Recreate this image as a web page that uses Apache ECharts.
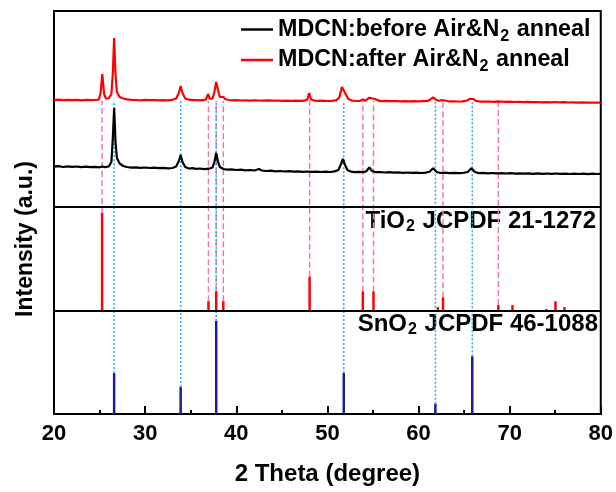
<!DOCTYPE html>
<html>
<head>
<meta charset="utf-8">
<script src="https://cdn.jsdelivr.net/npm/echarts@6/dist/echarts.min.js"></script>
<style>html,body{margin:0;padding:0;background:#fff}#c{width:616px;height:492px}</style>
</head>
<body>
<div id="c"></div>
<script>
// ---- data (y in arbitrary stacked intensity units; SnO2 panel 0-103, TiO2 panel 103-207, patterns above) ----
var seriesNames = ['MDCN:before Air&N2 anneal', 'MDCN:after Air&N2 anneal'];
var xTicks = [20, 30, 40, 50, 60, 70, 80];

var redCurve = [
[20,314],[20.5,314.3],[21,313.8],[21.5,314.2],[22,313.9],[22.5,314.1],[23,313.7],[23.5,314.2],[24,313.9],[24.5,314.0],
[24.9,314.3],[25.1,320],[25.3,340],[25.5,320],[25.7,315.5],[26.0,315.5],[26.3,320],[26.45,340],[26.6,376],[26.75,340],
[26.9,322],[27.2,317],[27.6,315.5],[28,314.6],[28.5,314.2],[29,314.0],[29.5,313.7],[30,314.1],[30.5,313.8],[31,313.9],
[31.5,313.6],[32,313.9],[32.5,313.7],[33,314.2],[33.4,315.5],[33.7,321],[33.9,328],[34.1,321],[34.4,315.5],[34.8,314.3],
[35.2,313.8],[35.6,313.9],[36,313.6],[36.4,313.8],[36.7,314.8],[36.9,320],[37.1,315],[37.4,315.5],[37.6,322],[37.8,332],
[38.0,324],[38.2,317],[38.4,315.5],[38.6,317],[38.8,314.8],[39.2,314.0],[39.6,313.6],[40,313.8],[40.5,313.5],[41,313.7],
[41.5,313.4],[42,313.7],[42.5,313.5],[43,313.3],[43.5,313.6],[44,313.3],[44.5,313.5],[45,313.2],[45.5,313.4],[46,313.2],
[46.5,313.4],[47,313.1],[47.5,313.3],[47.8,314.5],[48.0,321],[48.2,314.5],[48.6,313.4],[49,313.1],[49.5,313.3],[50,313.0],
[50.5,313.2],[51,313.8],[51.3,316.5],[51.6,327],[51.75,329],[52.0,320],[52.3,315],[52.7,313.4],[53.2,313.0],[53.6,313.2],
[53.9,314.5],[54.2,313.3],[54.4,314.5],[54.6,316.3],[54.8,314.5],[55.1,315.3],[55.3,313.4],[55.8,312.9],[56.3,313.1],[57,312.8],
[57.5,313.0],[58,312.7],[58.5,312.9],[59,312.6],[59.5,312.8],[60,312.6],[60.5,312.8],[61,313.0],[61.3,314.5],[61.6,316.7],
[61.9,314.3],[62.2,313.2],[62.5,313.8],[62.7,315],[62.9,313.5],[63.3,312.7],[63.8,312.6],[64.3,312.5],[64.8,312.7],[65.3,313.4],
[65.6,315.2],[65.8,315.7],[66.0,315],[66.3,313.2],[66.8,312.4],[67.3,312.3],[67.8,312.5],[68.3,312.2],[68.7,312.6],[68.9,313.3],
[69.1,312.4],[69.6,312.1],[70,312.3],[70.5,312.0],[71,312.2],[71.5,311.9],[72,312.1],[72.5,311.8],[73,312.0],[73.5,311.7],
[74,311.9],[74.5,311.6],[75,312.0],[75.5,311.6],[76,311.8],[76.5,311.5],[77,311.7],[77.5,311.4],[78,311.6],[78.5,311.3],
[79,311.5],[79.5,311.3],[80,311.4]
];

var blackCurve = [
[20,247.3],[20.5,247.8],[21,247.0],[21.5,247.6],[22,247.2],[22.5,247.5],[23,246.9],[23.5,247.4],[24,246.8],[24.5,247.2],
[25,246.7],[25.3,247.5],[25.6,246.8],[26.0,247.5],[26.3,252],[26.45,275],[26.6,306],[26.75,272],[26.9,256],[27.2,250.5],
[27.6,248],[28,247],[28.5,246.4],[29,246.7],[29.5,246.2],[30,246.5],[30.5,246.0],[31,246.3],[31.5,245.8],[32,246.1],
[32.5,245.6],[33,246.0],[33.4,247.5],[33.7,253],[33.9,259],[34.1,252],[34.4,247],[34.8,245.5],[35.2,245.8],[35.6,245.2],
[36,245.5],[36.5,244.9],[37,245.3],[37.4,246.5],[37.6,252],[37.8,261],[38.0,252],[38.2,247],[38.6,245],[39,244.4],
[39.5,244.7],[40,244.0],[40.5,244.3],[41,243.7],[41.5,244.0],[42,243.5],[42.5,245],[42.8,243.5],[43.3,243.0],[43.8,243.3],
[44.3,242.7],[44.8,243.0],[45.3,242.5],[45.8,242.8],[46.3,242.3],[46.8,242.6],[47.3,242.2],[47.8,242.5],[48.3,242.1],[48.8,242.4],
[49.3,242.0],[49.8,242.3],[50.3,242.0],[50.8,242.6],[51.2,244],[51.5,250],[51.7,255],[51.9,250],[52.2,244],[52.6,242.3],
[53,241.8],[53.5,242.1],[54,241.8],[54.3,243],[54.6,246.7],[54.9,243],[55.3,241.8],[55.8,242.0],[56.3,241.5],[56.8,241.8],
[57.3,241.3],[57.8,241.6],[58.3,241.2],[58.8,241.5],[59.3,241.1],[59.8,241.4],[60.3,241.0],[60.8,241.4],[61.2,242.2],[61.6,245.7],
[62.0,242],[62.4,241.0],[62.9,241.3],[63.4,240.9],[63.9,241.2],[64.4,240.8],[64.9,241.1],[65.4,242],[65.8,245.7],[66.2,242],
[66.6,240.9],[67.1,241.1],[67.6,240.7],[68.1,241.0],[68.6,240.6],[69.1,240.9],[69.6,240.5],[70.1,240.8],[70.6,240.4],[71.1,240.7],
[71.6,240.3],[72.1,240.6],[72.6,240.2],[73.1,240.6],[73.6,240.2],[74.1,240.5],[74.6,240.1],[75.1,240.5],[75.6,240.1],[76.1,240.4],
[76.6,240.0],[77.1,240.4],[77.6,240.0],[78.1,240.3],[78.6,239.9],[79.1,240.3],[79.6,240.0],[80,240.2]
];

// TiO2 anatase JCPDF 21-1272 reference lines
var tio2Pos = [25.28, 36.95, 37.80, 38.58, 48.05, 53.89, 55.06, 62.12, 62.69, 68.76, 70.31, 74.03, 75.03, 76.02];
var tio2Int = [100, 10, 20, 10, 35, 20, 20, 4, 14, 6, 6, 2, 10, 4];
var tio2Guide = [25.28, 36.95, 37.80, 38.58, 48.05, 53.89, 55.06, 62.69, 68.76];

// SnO2 JCPDF 46-1088 reference lines
var sno2Pos = [26.6, 33.9, 37.8, 51.8, 61.85, 65.9];
var sno2Int = [44, 29, 100, 44, 11, 62];

var panelBase = { sno2: 0, tio2: 103, top: 207 };
var panelScale = { sno2: 0.93, tio2: 0.98 };
var guideTop = 313;

// ---- build ----
var tio2Data = tio2Pos.map(function (p, i) { return [p, panelBase.tio2, panelBase.tio2 + tio2Int[i] * panelScale.tio2]; });
var sno2Data = sno2Pos.map(function (p, i) { return [p, panelBase.sno2, panelBase.sno2 + sno2Int[i] * panelScale.sno2]; });
var tio2GuideData = tio2Guide.map(function (p) { var i = tio2Pos.indexOf(p); return [p, panelBase.tio2 + tio2Int[i] * panelScale.tio2, guideTop]; });
var sno2GuideData = sno2Pos.map(function (p, i) { return [p, panelBase.sno2 + sno2Int[i] * panelScale.sno2, guideTop]; });

function segRender(color, width, dash) {
  return function (params, api) {
    var a = api.coord([api.value(0), api.value(1)]);
    var b = api.coord([api.value(0), api.value(2)]);
    return { type: 'line', shape: { x1: a[0], y1: a[1], x2: b[0], y2: b[1] },
      style: { stroke: color, lineWidth: width, lineDash: dash || null, fill: null } };
  };
}

var FONT = "'Liberation Sans', Arial, sans-serif";
function sub(s) { return '{a|' + s.replace(/([A-Za-z])2/, '$1}{s|2}{a|') + '}'; }
function richOf(size, subSize, lh) {
  return {
    a: { fontFamily: FONT, fontWeight: 'bold', fontSize: size, color: '#000', lineHeight: lh },
    s: { fontFamily: FONT, fontWeight: 'bold', fontSize: subSize, color: '#000', lineHeight: lh - 6, verticalAlign: 'bottom', padding: [0, 1, 0, 1] }
  };
}
var legendRich = richOf(23.3, 16, 30);
var panelRich = richOf(24, 16, 28);

var chart = echarts.init(document.getElementById('c'), null, { renderer: 'canvas' });
chart.setOption({
  animation: false,
  backgroundColor: '#fff',
  grid: { left: 54, right: 15, top: 11, bottom: 78, show: true, borderColor: '#000', borderWidth: 2, containLabel: false },
  legend: {
    orient: 'vertical', left: 236, top: 13, itemWidth: 32, itemHeight: 2.5, itemGap: 4,
    icon: 'rect', data: seriesNames,
    formatter: function (n) { return sub(n); },
    textStyle: { rich: legendRich }
  },
  xAxis: {
    type: 'value', min: xTicks[0], max: xTicks[xTicks.length - 1], interval: 10,
    name: '2 Theta (degree)', nameLocation: 'middle', nameGap: 48,
    nameTextStyle: { fontFamily: FONT, fontWeight: 'bold', fontSize: 24, color: '#000' },
    axisLine: { lineStyle: { color: '#000', width: 2 } },
    axisTick: { inside: true, length: 8, lineStyle: { color: '#000', width: 2 } },
    minorTick: { show: true, splitNumber: 2, length: 4, lineStyle: { color: '#000', width: 2 } },
    axisLabel: { fontFamily: FONT, fontWeight: 'bold', fontSize: 22, color: '#000', margin: 9 },
    splitLine: { show: false }
  },
  yAxis: {
    type: 'value', min: 0, max: 403,
    axisLine: { show: false }, axisTick: { show: false }, axisLabel: { show: false }, splitLine: { show: false }
  },
  graphic: [
    { type: 'text', x: 26, y: 239, rotation: Math.PI / 2,
      style: { text: 'Intensity (a.u.)', fontFamily: FONT, fontWeight: 'bold', fontSize: 23, fill: '#000', align: 'center', verticalAlign: 'middle' } },
    { type: 'text', x: 596, y: 221,
      style: { text: sub('TiO2 JCPDF 21-1272'), rich: panelRich, align: 'right', verticalAlign: 'middle' } },
    { type: 'text', x: 598, y: 324,
      style: { text: sub('SnO2 JCPDF 46-1088'), rich: panelRich, align: 'right', verticalAlign: 'middle' } }
  ],
  series: [
    { type: 'custom', name: 'tio2guide', data: tio2GuideData, encode: { x: 0, y: [1, 2] }, z: 1, silent: true,
      renderItem: segRender('#EE78B0', 1.5, [6, 3]) },
    { type: 'custom', name: 'sno2guide', data: sno2GuideData, encode: { x: 0, y: [1, 2] }, z: 1, silent: true,
      renderItem: segRender('#35A8EE', 1.5, [2, 2]) },
    { type: 'custom', name: 'tio2', data: tio2Data, encode: { x: 0, y: [1, 2] }, z: 2, silent: true,
      renderItem: segRender('#FF0000', 2.5) },
    { type: 'custom', name: 'sno2', data: sno2Data, encode: { x: 0, y: [1, 2] }, z: 2, silent: true,
      renderItem: segRender('#1E1E8E', 2.5) },
    { type: 'line', name: 'div1', data: [[20, panelBase.tio2], [80, panelBase.tio2]], symbol: 'none', z: 3,
      lineStyle: { color: '#000', width: 2 } },
    { type: 'line', name: 'div2', data: [[20, panelBase.top], [80, panelBase.top]], symbol: 'none', z: 3,
      lineStyle: { color: '#000', width: 2 } },
    { type: 'line', name: seriesNames[0], data: blackCurve, symbol: 'none', z: 4, color: '#000',
      lineStyle: { color: '#000', width: 2.2 } },
    { type: 'line', name: seriesNames[1], data: redCurve, symbol: 'none', z: 4, color: '#FF0000',
      lineStyle: { color: '#FF0000', width: 2.2 } }
  ]
});
</script>
</body>
</html>
